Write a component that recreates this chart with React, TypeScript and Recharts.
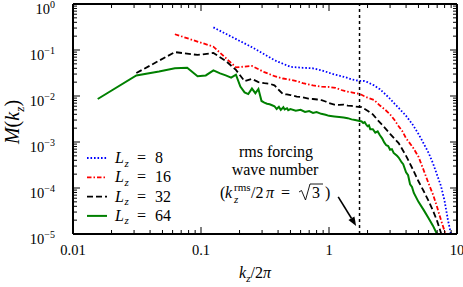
import { Legend, Line, LineChart, ReferenceLine, XAxis, YAxis } from 'recharts'

type Pt = [number, number]

// M(kz), [kz/2pi, M]
const lz8: Pt[] = [
  [0.125, 0.31], [0.25, 0.115], [0.375, 0.06], [0.5, 0.043], [0.625, 0.041],
  [0.75, 0.04], [0.875, 0.036], [1.0, 0.032], [1.125, 0.029], [1.25, 0.027],
  [1.375, 0.025], [1.5, 0.023], [1.625, 0.022], [1.75, 0.0213], [1.875, 0.0212],
  [2.0, 0.02], [2.25, 0.017], [2.5, 0.014], [2.75, 0.011], [3.0, 0.0087],
  [3.25, 0.0068], [3.5, 0.0055], [3.75, 0.0045], [4.0, 0.0037], [4.5, 0.0024],
  [5.0, 0.0015], [5.5, 0.00092], [6.0, 0.00058], [6.5, 0.00034], [7.0, 0.00019],
  [7.5, 0.00011], [8.0, 0.000052], [8.5, 0.00002], [9.0, 0.0000095],
]

const lz16: Pt[] = [
  [0.0625, 0.22], [0.125, 0.118], [0.1875, 0.042], [0.25, 0.045], [0.3125, 0.033],
  [0.375, 0.027], [0.4375, 0.024], [0.5, 0.0225], [0.5625, 0.021], [0.625, 0.019],
  [0.6875, 0.018], [0.75, 0.017], [0.8125, 0.0165], [0.875, 0.016], [0.9375, 0.0158],
  [1.0, 0.0157], [1.125, 0.015], [1.25, 0.0135], [1.375, 0.0125], [1.5, 0.012],
  [1.625, 0.0115], [1.75, 0.011], [1.875, 0.01], [2.0, 0.0092], [2.25, 0.0082],
  [2.5, 0.0062], [2.75, 0.005], [3.0, 0.004], [3.25, 0.003], [3.5, 0.0022],
  [3.75, 0.0017], [4.0, 0.0012], [4.5, 0.00078], [5.0, 0.00048], [5.5, 0.00024],
  [6.0, 0.000125], [6.5, 0.000072], [7.0, 0.000038], [7.5, 0.00002], [8.0, 0.0000115],
  [8.5, 0.0000065],
]

const lz32: Pt[] = [
  [0.03125, 0.0316], [0.0625, 0.09], [0.094, 0.078], [0.125, 0.086], [0.156, 0.058],
  [0.1875, 0.037], [0.219, 0.021], [0.25, 0.0235], [0.281, 0.02], [0.3125, 0.019],
  [0.344, 0.0185], [0.375, 0.017], [0.406, 0.0135], [0.4375, 0.011], [0.469, 0.0108],
  [0.5, 0.0105], [0.56, 0.0097], [0.625, 0.0094], [0.69, 0.0088], [0.75, 0.0086],
  [0.81, 0.0084], [0.875, 0.0081], [0.94, 0.0076], [1.0, 0.007], [1.1, 0.0065],
  [1.2, 0.0064], [1.3, 0.0065], [1.4, 0.0062], [1.5, 0.0061], [1.6, 0.0059],
  [1.7, 0.0058], [1.8, 0.0057], [2.0, 0.0048], [2.2, 0.004], [2.4, 0.003],
  [2.7, 0.0021], [3.0, 0.0015], [3.5, 0.00095], [4.0, 0.0005], [4.5, 0.00026],
  [5.0, 0.00014], [5.5, 0.000085], [6.0, 0.000052], [6.5, 0.000032], [7.0, 0.000019],
  [7.5, 0.0000105], [8.0, 0.000006],
]

const lz64: Pt[] = [
  [0.0156, 0.0086], [0.03125, 0.028], [0.047, 0.034], [0.0625, 0.04], [0.078, 0.041],
  [0.094, 0.027], [0.109, 0.028], [0.125, 0.036], [0.141, 0.031], [0.156, 0.028],
  [0.172, 0.025], [0.1875, 0.029], [0.203, 0.016], [0.219, 0.012], [0.234, 0.011],
  [0.25, 0.0145], [0.266, 0.0115], [0.281, 0.0142], [0.297, 0.0078], [0.3125, 0.0072],
  [0.328, 0.0068], [0.344, 0.0066], [0.359, 0.0063], [0.375, 0.006], [0.39, 0.0052],
  [0.406, 0.0058], [0.42, 0.005], [0.44, 0.0057], [0.45, 0.0051], [0.47, 0.0054],
  [0.48, 0.0049], [0.5, 0.0052], [0.55, 0.0048], [0.6, 0.005], [0.65, 0.0045],
  [0.7, 0.0047], [0.75, 0.0043], [0.8, 0.0045], [0.87, 0.0041], [0.94, 0.0039],
  [1.0, 0.0037], [1.1, 0.0036], [1.2, 0.0035], [1.3, 0.0034], [1.4, 0.0033],
  [1.5, 0.0031], [1.6, 0.003], [1.7, 0.0029], [1.8, 0.0028], [1.85, 0.0026],
  [1.9, 0.0027], [1.95, 0.0024], [2.0, 0.0022], [2.05, 0.0023], [2.1, 0.0019],
  [2.2, 0.0019], [2.3, 0.0016], [2.4, 0.0017], [2.5, 0.0014], [2.6, 0.0012],
  [2.7, 0.00098], [2.8, 0.00085], [2.9, 0.00082], [3.0, 0.00068], [3.1, 0.0007],
  [3.2, 0.00058], [3.4, 0.0005], [3.5, 0.00046], [3.7, 0.00036], [3.8, 0.00033],
  [4.0, 0.00022], [4.15, 0.00019], [4.3, 0.00012], [4.45, 0.000105], [4.6, 0.000078],
  [5.0, 0.00005], [5.5, 0.000033], [6.0, 0.000022], [6.5, 0.000015], [7.0, 0.0000098],
  [7.5, 0.000006],
]

const seriesNames = ['8', '16', '32', '64']
const seriesPoints = [lz8, lz16, lz32, lz64]
const seriesColors = ['#0000ff', '#ff0000', '#000000', '#008000']
const seriesDash = ['1.6 1.9', '4.5 2 1.5 2', '6 3', undefined]

const forcingK = 1.732 // sqrt(3)

const xMajor = [0.01, 0.1, 1, 10]
const xLabels = ['0.01', '0.1', '1', '10']
const yMajor = [1e-5, 1e-4, 1e-3, 1e-2, 1e-1, 1]
const yExponents = ['−5', '−4', '−3', '−2', '−1', '0']
const minorSteps = [2, 3, 4, 5, 6, 7, 8, 9]

const withMinors = (major: number[]) =>
  major.concat(major.slice(0, -1).flatMap((m) => minorSteps.map((s) => m * s)))
const xTicks = withMinors(xMajor)
const yTicks = withMinors(yMajor)

const majorIndex = (list: number[], v: number) => list.findIndex((m) => Math.abs(v / m - 1) < 1e-6)

const font = '"Liberation Serif", "DejaVu Serif", serif'

function BottomTick({ x, y, payload }: any) {
  const i = majorIndex(xMajor, payload.value)
  return (
    <g>
      <line x1={x} x2={x} y1={y} y2={y - (i >= 0 ? 7 : 4)} stroke="#000" strokeWidth={1} />
      {i >= 0 && (
        <text x={x} y={y + 21} textAnchor="middle" fontFamily={font} fontSize={14.5} fill="#000">
          {xLabels[i]}
        </text>
      )}
    </g>
  )
}

function TopTick({ x, y, payload }: any) {
  const big = majorIndex(xMajor, payload.value) >= 0
  return <line x1={x} x2={x} y1={y} y2={y + (big ? 7 : 4)} stroke="#000" strokeWidth={1} />
}

function LeftTick({ x, y, payload }: any) {
  const i = majorIndex(yMajor, payload.value)
  return (
    <g>
      <line x1={x} x2={x + (i >= 0 ? 7 : 4)} y1={y} y2={y} stroke="#000" strokeWidth={1} />
      {i >= 0 && (
        <text x={x - 18} y={y + 9.5} textAnchor="end" fontFamily={font} fontSize={14.5} fill="#000">
          10
          <tspan dy={-5.5} fontSize={10}>
            {yExponents[i]}
          </tspan>
        </text>
      )}
    </g>
  )
}

function RightTick({ x, y, payload }: any) {
  const big = majorIndex(yMajor, payload.value) >= 0
  return <line x1={x} x2={x - (big ? 7 : 4)} y1={y} y2={y} stroke="#000" strokeWidth={1} />
}

function Arrow(props: any) {
  const { x1, y1, x2, y2 } = props
  const a = Math.atan2(y2 - y1, x2 - x1)
  const len = 9
  const w = 3.5
  const bx = x2 - len * Math.cos(a)
  const by = y2 - len * Math.sin(a)
  const px = -Math.sin(a) * w
  const py = Math.cos(a) * w
  return (
    <g>
      <line x1={x1} y1={y1} x2={bx} y2={by} stroke="#000" strokeWidth={1.6} />
      <polygon points={`${x2},${y2} ${bx + px},${by + py} ${bx - px},${by - py}`} fill="#000" />
    </g>
  )
}

function LegendBox() {
  return (
    <svg width={100} height={80} style={{ display: 'block' }}>
      {seriesNames.map((name, i) => {
        const cy = 10 + i * 19.3
        return (
          <g key={name}>
            <line
              x1={0}
              x2={20}
              y1={cy}
              y2={cy}
              stroke={seriesColors[i]}
              strokeWidth={i === 3 ? 2 : 1.8}
              strokeDasharray={seriesDash[i]}
            />
            <text y={cy + 5} fontFamily={font} fontSize={16} fill="#000">
              <tspan x={28} fontStyle="italic">L</tspan>
              <tspan x={37.5} dy={3.5} fontSize={11} fontStyle="italic">z</tspan>
              <tspan x={50} dy={-3.5}>=</tspan>
              <tspan x={68}>{name}</tspan>
            </text>
          </g>
        )
      })}
    </svg>
  )
}

export default function App() {
  return (
    <div style={{ position: 'absolute', left: 0, top: 0, width: 463, height: 287, background: '#fff' }}>
      <LineChart width={463} height={287} margin={{ top: 2, right: 4, bottom: 23, left: 13 }}>
        <XAxis
          xAxisId="b"
          dataKey="x"
          type="number"
          scale="log"
          domain={[0.01, 10]}
          allowDataOverflow
          ticks={xTicks}
          interval={0}
          tickSize={0}
          tickMargin={0}
          tickLine={false}
          tick={<BottomTick />}
          height={30}
          axisLine={{ stroke: '#000', strokeWidth: 2 }}
        />
        <XAxis
          xAxisId="t"
          orientation="top"
          dataKey="x"
          type="number"
          scale="log"
          domain={[0.01, 10]}
          allowDataOverflow
          ticks={xTicks}
          interval={0}
          tickSize={0}
          tickMargin={0}
          tickLine={false}
          tick={<TopTick />}
          height={2}
          axisLine={{ stroke: '#000', strokeWidth: 2 }}
        />
        <YAxis
          yAxisId="l"
          type="number"
          scale="log"
          domain={[1e-5, 1]}
          allowDataOverflow
          ticks={yTicks}
          interval={0}
          tickSize={0}
          tickMargin={0}
          tickLine={false}
          tick={<LeftTick />}
          width={60}
          axisLine={{ stroke: '#000', strokeWidth: 2 }}
        />
        <YAxis
          yAxisId="r"
          orientation="right"
          type="number"
          scale="log"
          domain={[1e-5, 1]}
          allowDataOverflow
          ticks={yTicks}
          interval={0}
          tickSize={0}
          tickMargin={0}
          tickLine={false}
          tick={<RightTick />}
          width={2}
          axisLine={{ stroke: '#000', strokeWidth: 2 }}
        />
        {seriesPoints.map((pts, i) => (
          <Line
            key={seriesNames[i]}
            xAxisId="b"
            yAxisId="l"
            name={seriesNames[i]}
            data={pts.map(([x, y]) => ({ x, y }))}
            dataKey="y"
            stroke={seriesColors[i]}
            strokeWidth={i === 3 ? 2 : 1.8}
            strokeDasharray={seriesDash[i]}
            dot={false}
            isAnimationActive={false}
          />
        ))}
        <ReferenceLine
          xAxisId="b"
          yAxisId="l"
          x={forcingK}
          stroke="#000"
          strokeWidth={1.5}
          strokeDasharray="3 3"
        />
        <ReferenceLine
          xAxisId="b"
          yAxisId="l"
          segment={[
            { x: 1.18, y: 6.4e-5 },
            { x: 1.63, y: 1.5e-5 },
          ]}
          shape={<Arrow />}
        />
        <Legend
          layout="vertical"
          align="center"
          verticalAlign="middle"
          wrapperStyle={{ left: 87, top: 148, width: 100 }}
          content={<LegendBox />}
        />
      </LineChart>
      <svg
        width={463}
        height={287}
        style={{ position: 'absolute', left: 0, top: 0, pointerEvents: 'none' }}
        fontFamily={font}
        fill="#000"
      >
        <text x={276} y={157} textAnchor="middle" fontSize={16}>rms forcing</text>
        <text x={275} y={175} textAnchor="middle" fontSize={16}>wave number</text>
        <text x={220} y={198} fontSize={16}>(</text>
        <text x={225} y={198} fontSize={16} fontStyle="italic">k</text>
        <text x={234} y={191} fontSize={11}>rms</text>
        <text x={234} y={203} fontSize={11} fontStyle="italic">z</text>
        <text x={251} y={198} fontSize={16}>/2</text>
        <text x={266} y={198} fontSize={16} fontStyle="italic">π</text>
        <text x={281} y={198} fontSize={16}>=</text>
        <polyline
          points="299,192 301.5,190.5 305.5,200 310,184 323,184"
          fill="none"
          stroke="#000"
          strokeWidth={0.9}
        />
        <text x={312} y={198} fontSize={16}>3</text>
        <text x={325} y={198} fontSize={16}>)</text>
        <text x={255} y={278} textAnchor="middle" fontSize={16}>
          <tspan fontStyle="italic">k</tspan>
          <tspan dy={3.5} fontSize={11} fontStyle="italic">z</tspan>
          <tspan dy={-3.5}>/2</tspan>
          <tspan fontStyle="italic">π</tspan>
        </text>
        <text x={19} y={122} textAnchor="middle" fontSize={20} transform="rotate(-90 19 122)">
          <tspan fontStyle="italic">M</tspan>
          <tspan>(</tspan>
          <tspan fontStyle="italic">k</tspan>
          <tspan dy={4.5} fontSize={13.5} fontStyle="italic">z</tspan>
          <tspan dy={-4.5}>)</tspan>
        </text>
      </svg>
    </div>
  )
}
